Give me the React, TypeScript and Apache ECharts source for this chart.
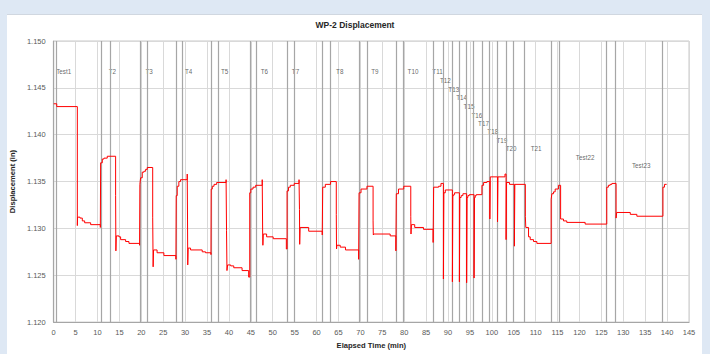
import React, { useEffect, useRef } from "react";
import * as echarts from "echarts";

// Elapsed time (min) and displacement (in) readings, one array per test block
const test1: [number, number][] = [
  [0, 1.1433], [0.7, 1.143], [5.4, 1.1303], [5.45, 1.1312], [6.0, 1.1311], [6.54, 1.1308],
  [7.07, 1.1306], [8.44, 1.1304], [10.65, 1.1301],
];
const test2: [number, number][] = [
  [10.72, 1.137], [11.1, 1.1374], [11.47, 1.1375], [12.23, 1.1377], [14.14, 1.1335], [14.2, 1.1276],
  [14.3, 1.1292], [14.9, 1.1291], [15.28, 1.1288], [16.42, 1.1286], [17.18, 1.1284], [19.6, 1.1282],
];
const test3: [number, number][] = [
  [19.68, 1.1347], [19.84, 1.1354], [20.22, 1.136], [20.6, 1.1361], [20.98, 1.1363], [21.36, 1.1365],
  [22.6, 1.1312], [22.7, 1.1259], [22.8, 1.1277], [23.6, 1.1274], [25.15, 1.1271], [27.9, 1.1267],
];
const test4: [number, number][] = [
  [27.97, 1.1335], [28.2, 1.1345], [28.57, 1.135], [28.96, 1.1352], [30.48, 1.1358], [30.55, 1.131],
  [30.6, 1.1261], [30.7, 1.1279], [31.24, 1.1277], [33.9, 1.1275], [34.66, 1.1274], [35.9, 1.1272],
];
const test5: [number, number][] = [
  [35.95, 1.1342], [36.2, 1.1345], [36.6, 1.1347], [37.2, 1.1349], [39.35, 1.1352], [39.45, 1.1298],
  [39.55, 1.1255], [39.7, 1.1261], [40.4, 1.126], [41.1, 1.1258], [43.0, 1.1255], [44.5, 1.1248],
];
const test6: [number, number][] = [
  [44.75, 1.1338], [45.0, 1.1342], [45.5, 1.1344], [46.1, 1.1346], [47.6, 1.1352], [47.7, 1.1294],
  [47.75, 1.1282], [47.85, 1.1294], [48.6, 1.1291], [50.1, 1.1289], [53.1, 1.1278],
];
const test7: [number, number][] = [
  [53.27, 1.134], [53.6, 1.1344], [54.0, 1.1346], [54.9, 1.1348], [56.0, 1.1352], [56.1, 1.132],
  [56.15, 1.1283], [56.25, 1.1301], [58.2, 1.1297], [61.3, 1.1293],
];
const test8: [number, number][] = [
  [61.4, 1.1344], [62.0, 1.1347], [63.2, 1.135], [64.5, 1.1315], [64.55, 1.1278], [64.65, 1.1282],
  [65.4, 1.128], [66.6, 1.1277], [69.6, 1.1267],
];
const test9: [number, number][] = [
  [69.7, 1.1338], [70.15, 1.1342], [71.5, 1.1345], [72.9, 1.1308], [72.95, 1.1293], [73.05, 1.1294],
  [76.8, 1.1292], [78.1, 1.1276],
];
const test10: [number, number][] = [
  [78.2, 1.1337], [78.7, 1.1342], [79.9, 1.1345], [81.5, 1.1313], [81.55, 1.1294], [81.65, 1.1304],
  [82.4, 1.1301], [84.4, 1.1299], [86.6, 1.1285],
];
const tests11to21: [number, number][] = [
  [86.72, 1.1344], [87.86, 1.1345], [88.39, 1.1348], [88.95, 1.1246], [89.05, 1.1338], [89.38, 1.1341],
  [91.0, 1.1243], [91.1, 1.1335], [91.28, 1.1336], [91.5, 1.1338],
  [92.6, 1.1243], [92.7, 1.1333], [93.0, 1.1335], [93.4, 1.1337],
  [94.25, 1.1242], [94.35, 1.1333], [94.54, 1.1335], [94.85, 1.1336],
  [95.95, 1.1247], [96.05, 1.1333], [96.22, 1.1335], [96.44, 1.1336],
  [97.74, 1.1346], [98.12, 1.1349], [98.88, 1.135],
  [99.55, 1.131], [99.65, 1.1355],
  [101.3, 1.1307], [101.4, 1.1355], [103.0, 1.1358],
  [103.25, 1.1288], [103.35, 1.1349], [104.04, 1.1347],
  [105.15, 1.1281], [105.25, 1.1347],
  [107.65, 1.1313], [107.75, 1.1301], [108.38, 1.1291], [108.76, 1.1288], [109.52, 1.1286], [110.28, 1.1284],
];
const test22: [number, number][] = [
  [113.54, 1.1331], [113.7, 1.1337], [114.08, 1.1339], [114.46, 1.1342], [115.2, 1.1346], [115.7, 1.131],
  [116.35, 1.1308], [117.1, 1.13064], [121.3, 1.13046],
];
const test23: [number, number][] = [
  [126.23, 1.1344], [126.6, 1.1346], [127.0, 1.1347], [127.4, 1.1348], [128.36, 1.1311], [128.5, 1.1317],
  [131.6, 1.1315], [133.1, 1.1313], [139.05, 1.1344], [139.4, 1.1347], [139.9, 1.1347],
];

// Test boundary markers (min)
const markerTimes = [
  0.7, 10.88, 12.84, 19.68, 21.43, 27.98, 29.4, 35.96, 37.46, 44.77, 46.28, 53.27, 54.87, 61.4, 63.08,
  69.7, 71.5, 78.2, 79.87, 86.72, 88.84, 90.9, 92.57, 94.1, 95.75, 97.7, 99.3, 101.2, 103.2, 104.95,
  107.5, 113.5, 115.4, 126.15, 128.2, 138.9,
];

// Test labels
const labelNames = [
  "Test1", "T2", "T3", "T4", "T5", "T6", "T7", "T8", "T9", "T10", "T11", "T12", "T13", "T14", "T15",
  "T16", "T17", "T18", "T19", "T20", "T21", "Test22", "Test23",
];
const labelX = [
  2.3, 13.4, 21.8, 30.8, 39.0, 48.1, 55.2, 65.3, 73.3, 82.0, 87.6, 89.4, 91.3, 93.1, 94.8, 96.6, 98.1,
  100.2, 102.3, 104.4, 110.1, 121.3, 134.1,
];
const labelY = [
  1.1467, 1.1467, 1.1467, 1.1467, 1.1467, 1.1467, 1.1467, 1.1467, 1.1467, 1.1467, 1.1467, 1.14579,
  1.14487, 1.14398, 1.14303, 1.14207, 1.14122, 1.14031, 1.13942, 1.1385, 1.1385, 1.13755, 1.13666,
];

const xTicks = { min: 0, max: 145, interval: 5 };
const yTicks = { min: 1.12, max: 1.15, interval: 0.005 };

const FONT = "'Liberation Sans', Arial, sans-serif";

export default function App() {
  const ref = useRef<HTMLDivElement>(null);
  useEffect(() => {
    if (!ref.current) return;
    const chart = echarts.init(ref.current, undefined, { renderer: "svg" });
    const displacement = [
      ...test1, ...test2, ...test3, ...test4, ...test5, ...test6, ...test7, ...test8, ...test9,
      ...test10, ...tests11to21, ...test22, ...test23,
    ];
    const labels = labelNames.map((n, i) => ({ name: n, value: [labelX[i], labelY[i]] }));
    chart.setOption({
      animation: false,
      backgroundColor: "#ffffff",
      textStyle: { fontFamily: FONT },
      title: {
        text: "WP-2 Displacement",
        left: "center",
        top: 20,
        padding: 0,
        textStyle: { fontSize: 8.5, fontWeight: "bold", color: "#262626", fontFamily: FONT },
      },
      graphic: {
        elements: [
          { type: "rect", shape: { x: 0, y: 0, width: 710, height: 14 }, style: { fill: "#dee8f4" }, silent: true },
          { type: "rect", shape: { x: 0, y: 0, width: 7, height: 354 }, style: { fill: "#dee8f4" }, silent: true },
          { type: "rect", shape: { x: 702, y: 0, width: 8, height: 354 }, style: { fill: "#dee8f4" }, silent: true },
          { type: "line", shape: { x1: 7, y1: 14.5, x2: 702, y2: 14.5 }, style: { stroke: "#d0d7e0", lineWidth: 1 }, silent: true },
        ],
      },
      grid: {
        left: 53,
        top: 41,
        width: 636,
        height: 282.5,
        show: true,
        borderColor: "#c8c8c8",
        borderWidth: 1,
        containLabel: false,
      },
      xAxis: {
        type: "value",
        min: xTicks.min,
        max: xTicks.max,
        interval: xTicks.interval,
        name: "Elapsed Time (min)",
        nameLocation: "middle",
        nameGap: 18,
        nameTextStyle: { fontSize: 7.6, fontWeight: "bold", color: "#262626", fontFamily: FONT },
        axisLine: { show: true, lineStyle: { color: "#a6a6a6", width: 1.2 } },
        axisTick: { show: false },
        axisLabel: { fontSize: 7.5, color: "#595959", margin: 6, fontFamily: FONT },
        splitLine: { show: true, lineStyle: { color: "#d9d9d9", width: 1 } },
      },
      yAxis: {
        type: "value",
        min: yTicks.min,
        max: yTicks.max,
        interval: yTicks.interval,
        name: "Displacement (in)",
        nameLocation: "middle",
        nameGap: 25,
        nameTextStyle: { fontSize: 7.6, fontWeight: "bold", color: "#262626", fontFamily: FONT },
        axisLine: { show: true, lineStyle: { color: "#a6a6a6", width: 1.2 } },
        axisTick: { show: false },
        axisLabel: {
          fontSize: 7.5,
          color: "#595959",
          margin: 8,
          fontFamily: FONT,
          formatter: (v: number) => v.toFixed(3),
        },
        splitLine: { show: true, lineStyle: { color: "#d9d9d9", width: 1 } },
      },
      series: [
        {
          type: "scatter",
          name: "labels",
          data: labels,
          symbolSize: 1,
          itemStyle: { color: "rgba(0,0,0,0)" },
          silent: true,
          z: 3,
          label: {
            show: true,
            position: "inside",
            formatter: "{b}",
            fontSize: 6.3,
            color: "#404040",
            fontFamily: FONT,
          },
          markLine: {
            silent: true,
            symbol: ["none", "none"],
            label: { show: false },
            lineStyle: { color: "#a6a6a6", width: 1.2, type: "solid" },
            emphasis: { disabled: true },
            data: markerTimes.map((t) => ({ xAxis: t })),
          },
        },
        {
          type: "line",
          name: "WP-2",
          data: displacement,
          step: "end",
          showSymbol: false,
          symbol: "none",
          silent: true,
          z: 5,
          lineStyle: { color: "#ff0000", width: 1 },
        },
      ],
    });
    return () => chart.dispose();
  }, []);
  return (
    <div
      ref={ref}
      style={{ position: "fixed", left: 0, top: 0, width: 710, height: 354 }}
    />
  );
}
